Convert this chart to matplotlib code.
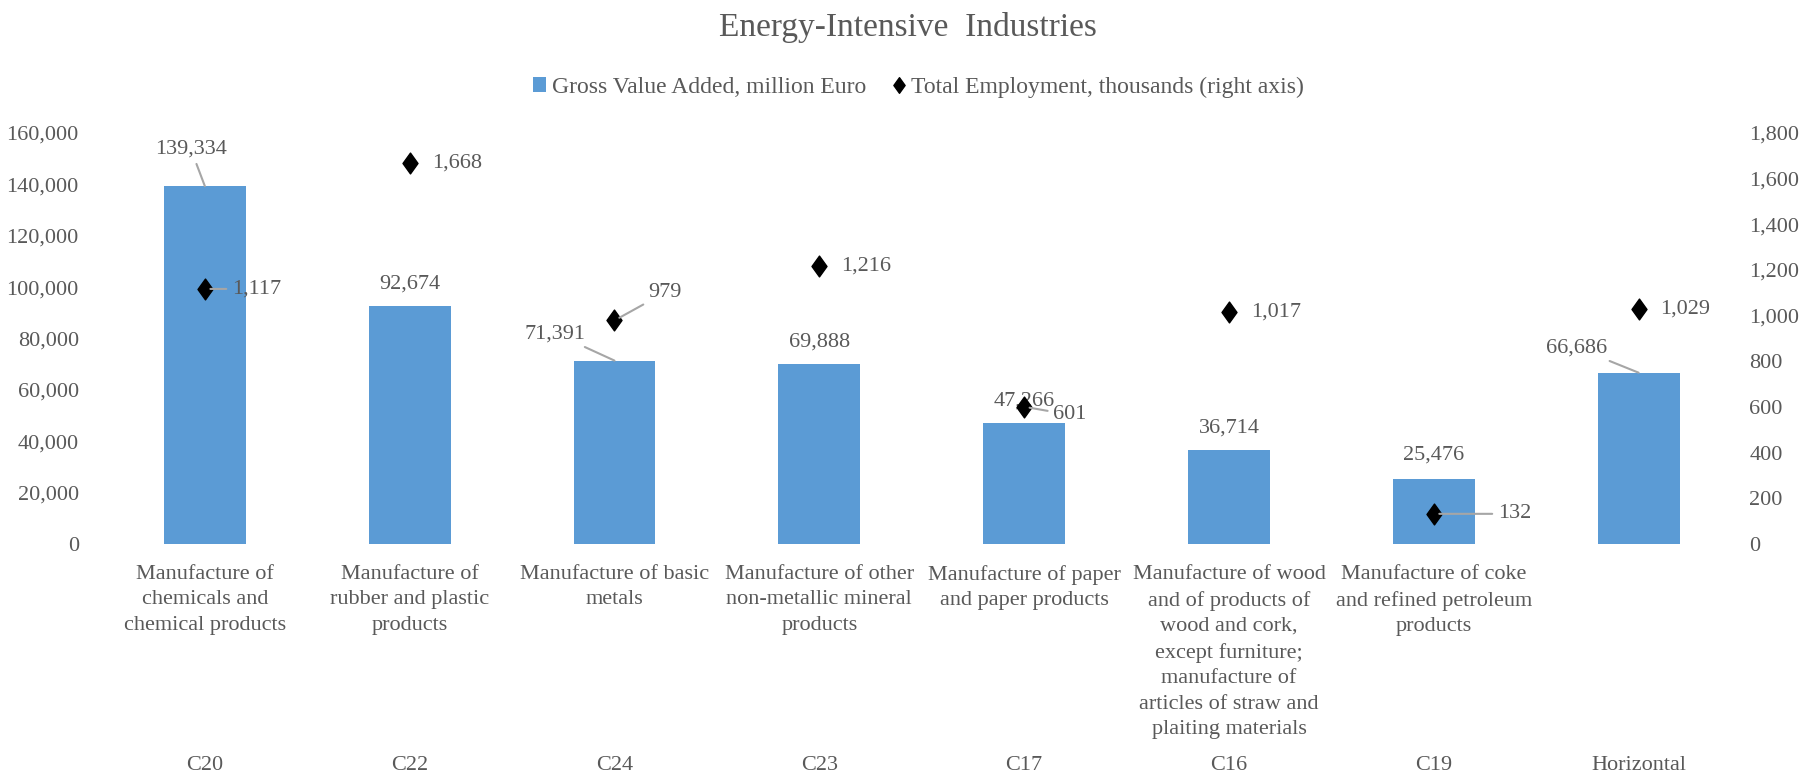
import matplotlib.pyplot as plt
from matplotlib.path import Path
from matplotlib.ticker import FuncFormatter, MultipleLocator
from matplotlib.transforms import blended_transform_factory

# ---------- data ----------
codes = ["C20", "C22", "C24", "C23", "C17", "C16", "C19", "Horizontal"]
names = [
    "Manufacture of\nchemicals and\nchemical products",
    "Manufacture of\nrubber and plastic\nproducts",
    "Manufacture of basic\nmetals",
    "Manufacture of other\nnon-metallic mineral\nproducts",
    "Manufacture of paper\nand paper products",
    "Manufacture of wood\nand of products of\nwood and cork,\nexcept furniture;\nmanufacture of\narticles of straw and\nplaiting materials",
    "Manufacture of coke\nand refined petroleum\nproducts",
    "",
]
gva = [139334, 92674, 71391, 69888, 47266, 36714, 25476, 66686]
employment = [1117, 1668, 979, 1216, 601, 1017, 132, 1029]

# label offsets in pixels (dx, dy) and whether a leader line is drawn
gva_lab = [(-14, 37, True), (0, 22, False), (-59, 27, True), (0, 22, False),
           (0, 22, False), (0, 22, False), (0, 23, False), (-62, 25, True)]
emp_lab = [(27, 0, True), (22, 0, False), (34, 28, True), (22, 0, False),
           (29, -8, True), (22, 0, False), (64, 0, True), (22, 0, False)]

GREY = "#595959"
BLUE = "#5B9BD5"
LEAD = "#A6A6A6"
FS = 16

plt.rcParams["font.family"] = ["Liberation Serif", "DejaVu Serif"]

fig = plt.figure(figsize=(18.16, 7.79), dpi=100)
ax = fig.add_axes([0.0564, 0.3017, 0.9023, 0.5276])
ax2 = ax.twinx()

x = list(range(len(codes)))
ax.bar(x, gva, width=0.40, color=BLUE, label="Gross Value Added, million Euro", zorder=2)

diamond = Path([(0, 1), (0.72, 0), (0, -1), (-0.72, 0), (0, 1)],
               [Path.MOVETO, Path.LINETO, Path.LINETO, Path.LINETO, Path.CLOSEPOLY])
ax2.plot(x, employment, linestyle="none", marker=diamond, markersize=15,
         color="black", label="Total Employment, thousands (right axis)", zorder=3)

ax.set_xlim(-0.5, len(codes) - 0.5)
ax.set_ylim(0, 160000)
ax2.set_ylim(0, 1800)
ax.yaxis.set_major_locator(MultipleLocator(20000))
ax2.yaxis.set_major_locator(MultipleLocator(200))
fmt = FuncFormatter(lambda v, p: f"{v:,.0f}")
ax.yaxis.set_major_formatter(fmt)
ax2.yaxis.set_major_formatter(fmt)

for a in (ax, ax2):
    for s in a.spines.values():
        s.set_visible(False)
ax.tick_params(axis="y", length=0, pad=17, labelsize=FS, labelcolor=GREY)
ax2.tick_params(axis="y", length=0, pad=6, labelsize=FS, labelcolor=GREY)
ax.set_xticks(x)
ax.set_xticklabels(names, fontsize=FS, color=GREY, linespacing=1.46)
ax.tick_params(axis="x", length=0, pad=15)

# second level category codes
trans = blended_transform_factory(ax.transData, fig.transFigure)
for xi, c in zip(x, codes):
    ax.text(xi, 0.017, c, transform=trans, ha="center", va="center",
            fontsize=FS, color=GREY)

# data labels
for xi, v, (dx, dy, lead) in zip(x, gva, gva_lab):
    ax.annotate(f"{v:,.0f}", (xi, v), xytext=(dx, dy), textcoords="offset pixels",
                ha="center", va="center", fontsize=FS, color=GREY,
                arrowprops=dict(arrowstyle="-", color=LEAD, lw=1.5, shrinkA=2, shrinkB=0)
                if lead else None)
for xi, v, (dx, dy, lead) in zip(x, employment, emp_lab):
    ax2.annotate(f"{v:,.0f}", (xi, v), xytext=(dx, dy), textcoords="offset pixels",
                 ha="left", va="center", fontsize=FS, color=GREY,
                 arrowprops=dict(arrowstyle="-", color=LEAD, lw=1.5, shrinkA=2, shrinkB=4)
                 if lead else None)

fig.text(0.5, 0.965, "Energy-Intensive  Industries", ha="center", va="center",
         fontsize=24, color=GREY)

h1, l1 = ax.get_legend_handles_labels()
h2, l2 = ax2.get_legend_handles_labels()
leg = fig.legend(h1 + h2, l1 + l2, loc="center", bbox_to_anchor=(0.506, 0.888), ncol=2,
                 frameon=False, fontsize=17, handlelength=0.55, handleheight=0.55,
                 handletextpad=0.25, columnspacing=1.1, markerscale=0.75)
for t in leg.get_texts():
    t.set_color(GREY)

fig.savefig("out.png", dpi=100)
